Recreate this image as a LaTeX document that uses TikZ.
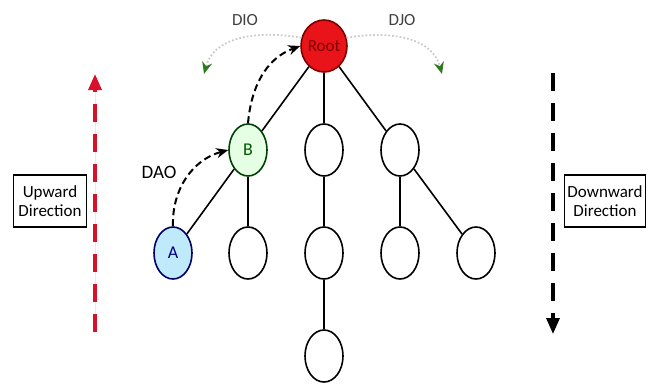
\documentclass[tikz,border=0pt]{standalone}
\usepackage{fontspec}
\setmainfont{Carlito}
\usetikzlibrary{arrows.meta,shapes.geometric}
\definecolor{rootred}{HTML}{E8141A}
\definecolor{dirred}{HTML}{D8102A}
\definecolor{diogreen}{HTML}{2D7A1F}
\tikzset{
  vertex/.style={draw, ellipse, line width=1.6pt, minimum width=38pt, minimum height=52pt, inner sep=0pt, font=\fontsize{18}{20}\selectfont},
  link/.style={line width=1.6pt},
  dio/.style={dotted, line width=1.8pt, draw=gray!40, -{Stealth[length=12pt,width=10pt,color=diogreen,fill=diogreen]}},
  dao/.style={line width=2pt, dash pattern=on 7pt off 4pt, -{Stealth[length=12pt,width=10pt]}},
  dirbox/.style={draw, line width=1.4pt, align=center, inner sep=3pt, font=\fontsize{17}{19}\selectfont, minimum height=52pt},
  dirarrow/.style={line width=3.2pt, dash pattern=on 18pt off 12pt, -{Triangle[length=16pt,width=13pt]}}
}
\begin{document}
\begin{tikzpicture}[x=1pt,y=-1pt]
\useasboundingbox (0,0) rectangle (652,386);
\node [vertex, fill=rootred, draw=red!50!black, text=red!50!black, font=\fontsize{17}{19}\selectfont] (root) at (324,46) {Root};
\node [vertex, fill=green!10, draw=green!25!black, text=green!35!black] (b) at (248,150) {B};
\node [vertex] (m1) at (324,150) {};
\node [vertex] (r1) at (400,150) {};
\node [vertex, fill=cyan!25, draw=blue!40!black, text=blue!50!black] (a) at (173,253) {A};
\node [vertex] (b1) at (248,253) {};
\node [vertex] (m2) at (324,253) {};
\node [vertex] (r2) at (400,253) {};
\node [vertex] (r3) at (476,253) {};
\node [vertex] (m3) at (324,356) {};
\draw [link] (root) -- (b);
\draw [link] (root) -- (m1);
\draw [link] (root) -- (r1);
\draw [link] (b) -- (a);
\draw [link] (b) -- (b1);
\draw [link] (m1) -- (m2);
\draw [link] (m2) -- (m3);
\draw [link] (r1) -- (r2);
\draw [link] (r1) -- (r3);
% DIO
\coordinate (dioL) at (204,74);
\coordinate (dioR) at (442,74);
\draw [dio] (root.160) to[out=170,in=75] (dioL);
\draw [dio] (root.20) to[out=10,in=105] (dioR);
\node [text=black!75, font=\fontsize{17}{19}\selectfont] (dioLlabel) at (245,20) {DIO};
\node [text=black!75, font=\fontsize{17}{19}\selectfont] (dioRlabel) at (402,20) {DJO};
% DAO
\draw [dao] (a.north) to[out=92,in=195] (b.west);
\draw [dao] (b.north) to[out=85,in=200] (root.west);
\node [font=\fontsize{19}{21}\selectfont] (daolabel) at (159,172) {DAO};
% directions
\coordinate (upS) at (95,332);
\coordinate (upE) at (95,74);
\coordinate (downS) at (553,73);
\coordinate (downE) at (553,334);
\draw [dirarrow, draw=dirred, fill=dirred] (upS) -- (upE);
\draw [dirarrow] (downS) -- (downE);
\node [dirbox, minimum width=73pt] (upbox) at (50,201) {Upward\\Direction};
\node [dirbox, minimum width=80pt] (downbox) at (605,201) {Downward\\Direction};
\end{tikzpicture}
\end{document}
